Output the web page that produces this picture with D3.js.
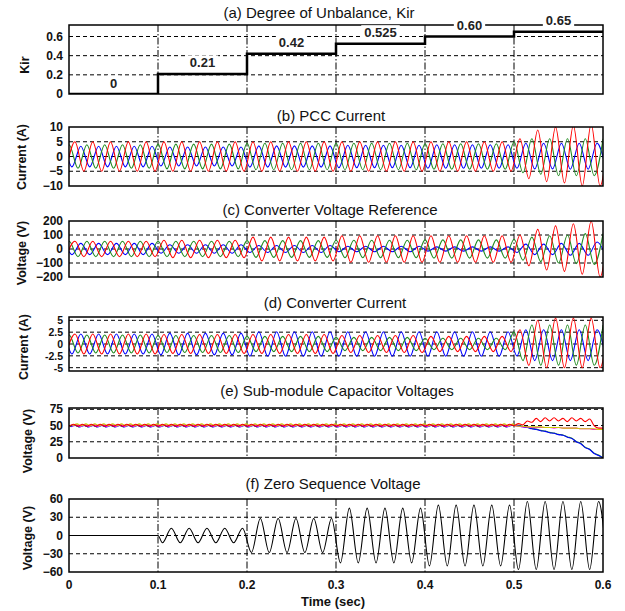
<!DOCTYPE html>
<html>
<head>
<meta charset="utf-8">
<script src="https://cdn.jsdelivr.net/npm/d3@7"></script>
<style>
body { margin: 0; background: #fff; }
text { font-family: "Liberation Sans", Arial, sans-serif; }
.tick { font-size: 12px; font-weight: bold; fill: #111; }
.tick-d { font-size: 10.5px; }
.title { font-size: 15px; fill: #111; }
.ylab { font-size: 12.5px; font-weight: bold; fill: #111; }
.steplab { font-size: 13px; font-weight: bold; fill: #222; }
.frame { fill: none; stroke: #000; stroke-width: 1.5; }
.hgrid { stroke: #000; stroke-width: 1; stroke-dasharray: 4,3; }
.vgrid { stroke: #000; stroke-width: 1; stroke-dasharray: 7,2,1.5,2; }
.wave { fill: none; stroke-width: 1.1; }
</style>
</head>
<body>
<svg id="chart" width="625" height="611"></svg>
<script>
/* Unbalance test: six stacked time plots */

// (a) degree of unbalance steps
const kirStart = [0, 0.1, 0.2, 0.3, 0.4, 0.5];
const kirValue = [0, 0.21, 0.42, 0.525, 0.60, 0.65];
const kirLabel = ["0", "0.21", "0.42", "0.525", "0.60", "0.65"];

// 50 Hz three phase signals: time of first trough for each phase
const phaseStart = [-0.0033, -0.0099, -0.0167];   // red, green, blue

// amplitude of each 0.1 s segment up to 0.5 s, then each half-cycle peak after 0.5 s
// (b) PCC current (A)
const pccRedAmp   = [5, 5, 5, 5, 5];
const pccGreenAmp = [4, 4.2, 4.5, 4.5, 4.3];
const pccBlueAmp  = [3.5, 3.2, 3.6, 3.8, 4];
const pccRedPeaks   = [6, 7.5, 9, 8.5, 10, 9, 10.5, 10, 11, 10, 10];
const pccGreenPeaks = [5, 5.5, 6, 6, 6, 6.5, 6, 6.5, 6, 6.5, 6];
const pccBluePeaks  = [4, 4.5, 4.2, 4.5, 4.2, 4.5, 4.3, 4.5, 4.3, 4.5, 4.3];

// (c) converter voltage reference (V)
const refRedAmp   = [55, 62, 85, 95, 95];
const refGreenAmp = [55, 55, 60, 62, 65];
const refBlueAmp  = [40, 30, 25, 20, 15];
const refRedPeaks   = [100, 120, 140, 150, 165, 160, 180, 180, 200, 200, 210];
const refGreenPeaks = [70, 80, 85, 90, 95, 100, 100, 105, 110, 110, 110];
const refBluePeaks  = [25, 35, 40, 35, 40, 40, 45, 40, 45, 50, 50];

// (d) converter current (A)
const convRedAmp   = [2.1, 2, 2, 1.8, 1.6];
const convGreenAmp = [1.9, 1.8, 1.6, 1.4, 1.2];
const convBlueAmp  = [2.1, 2.3, 2.6, 2.6, 2.6];
const convRedPeaks   = [3, 4.5, 5, 5, 5.5, 5, 5.5, 5, 5.5, 5, 5];
const convGreenPeaks = [2.5, 3.5, 4, 4.5, 4, 4.5, 4, 4.5, 4, 4.5, 4];
const convBluePeaks  = [2.5, 3, 3.5, 3, 3.5, 3, 3.5, 3, 3.5, 3, 3];

// (e) sub-module capacitor voltages: ripple before 0.5 s, samples after
const capNames  = ["green", "blue", "magenta", "yellow", "red"];
const capLevel  = [49.5, 49, 50, 51, 50.5];
const capRipple = [1.5, 1, 1.5, 1.5, 1.5];
const capPhase  = [0.001, 0.002, 0.003, 0.004, 0];
const capTimes  = [0.5, 0.505, 0.51, 0.515, 0.52, 0.525, 0.53, 0.535, 0.54, 0.545, 0.55,
                   0.555, 0.56, 0.565, 0.57, 0.575, 0.58, 0.585, 0.59, 0.595, 0.6];
const capGreenAfter   = [50, 50.5, 48.5, 47.5, 45.5, 44.5, 42.5, 41.5, 39.5, 38.5, 36.5,
                         35.5, 32.5, 30.5, 25.5, 22.5, 16.5, 13.5, 7.5, 4.5, 0];
const capBlueAfter    = [50, 49.5, 48, 47, 45, 44, 42, 41, 39, 38, 36,
                         35, 32, 30, 25, 22, 16, 13, 7, 4, 0];
const capMagentaAfter = [50, 49, 48, 48, 47, 47, 47, 47, 47, 46, 47,
                         46, 46, 46, 46, 45, 45, 45, 44, 44, 44];
const capYellowAfter  = [50, 49, 49, 48, 48, 48, 48, 47, 47, 47, 47,
                         46, 46, 46, 46, 45, 45, 45, 45, 44, 44];
const capRedAfter     = [50, 53, 51, 57, 55, 61, 56, 62, 57, 62, 57,
                         61, 56, 62, 57, 61, 56, 60, 50, 46, 46];

// (f) zero sequence voltage amplitude per 0.1 s segment (V)
const zeroAmp = [0, 12, 28, 45, 50, 56];

// axis ticks
const timeTicks = [0, 0.1, 0.2, 0.3, 0.4, 0.5, 0.6];

const colors = {red: "#ff0000", green: "#1f8a1f", blue: "#0000ff", magenta: "#ff00ff", yellow: "#cccc00"};

const svg = d3.select("#chart");
const x = d3.scaleLinear().domain([0, 0.6]).range([69, 603]);

const panels = [
  {id: "a", top: 25,  bottom: 94,  domain: [0, 0.72],   ticks: [0, 0.2, 0.4, 0.6], fmt: d => d === 0 ? "0" : d3.format(".1f")(d),
   grid: [0.2, 0.4, 0.6], ylabel: "Kir", lx: 25, ly: 65,
   title: "(a)  Degree of Unbalance, Kir", tx: 319, ty: 18},
  {id: "b", top: 127, bottom: 186, domain: [-10, 10],   ticks: [-10, -5, 0, 5, 10], fmt: d3.format("d"),
   grid: [-5, 0, 5], ylabel: "Current (A)", lx: 22, ly: 157,
   title: "(b) PCC Current", tx: 331, ty: 121},
  {id: "c", top: 221, bottom: 277, domain: [-200, 200], ticks: [-200, -100, 0, 100, 200], fmt: d3.format("d"),
   grid: [-100, 0, 100], ylabel: "Voltage (V)", lx: 22, ly: 253,
   title: "(c)  Converter Voltage Reference", tx: 330, ty: 215},
  {id: "d", top: 317, bottom: 371, domain: [-5.7, 5.7], ticks: [-5, -2.5, 0, 2.5, 5], fmt: d => String(d),
   grid: [-5, -2.5, 0, 2.5, 5], ylabel: "Current (A)", lx: 24, ly: 347,
   title: "(d)  Converter Current", tx: 335, ty: 308},
  {id: "e", top: 408, bottom: 458, domain: [0, 77],     ticks: [0, 25, 50, 75], fmt: d3.format("d"),
   grid: [25, 50, 75], ylabel: "Voltage (V)", lx: 28, ly: 441,
   title: "(e)  Sub-module Capacitor Voltages", tx: 337, ty: 396},
  {id: "f", top: 499, bottom: 572, domain: [-60, 60],   ticks: [-60, -30, 0, 30, 60], fmt: d3.format("d"),
   grid: [-30, 0, 30], ylabel: "Voltage (V)", lx: 28, ly: 538,
   title: "(f) Zero Sequence Voltage", tx: 333, ty: 489}
];

// alternating troughs and peaks every half cycle, segment amplitude before 0.5 s
function extrema(t0, segAmp, lastPeaks) {
  const pts = [];
  let j = 0;
  for (let k = 0, t = t0; t <= 0.61; k++, t = t0 + k * 0.01) {
    const sign = k % 2 ? 1 : -1;
    let a;
    if (t >= 0.5 && lastPeaks) a = lastPeaks[Math.min(j++, lastPeaks.length - 1)];
    else a = segAmp[Math.min(segAmp.length - 1, Math.max(0, Math.floor(t / 0.1 + 1e-9)))];
    pts.push([t, sign * a]);
  }
  return pts;
}

function ripple(i, after) {
  const pts = [];
  for (let k = 0, t = capPhase[i]; t < 0.5; k++, t = capPhase[i] + k * 0.005)
    pts.push([t, capLevel[i] + (k % 2 ? capRipple[i] : -capRipple[i])]);
  capTimes.forEach((t, n) => pts.push([t, after[n]]));
  return pts;
}

const g = {};
const yScale = {};

panels.forEach(p => {
  const y = d3.scaleLinear().domain(p.domain).range([p.bottom, p.top]);
  yScale[p.id] = y;
  const pg = svg.append("g").attr("class", "panel-" + p.id);
  g[p.id] = pg;

  pg.append("defs").append("clipPath").attr("id", "clip-" + p.id)
    .append("rect").attr("x", x(0)).attr("y", p.top)
    .attr("width", x(0.6) - x(0)).attr("height", p.bottom - p.top);

  pg.selectAll("line.hgrid").data(p.grid).enter()
    .append("line").attr("class", "hgrid")
    .attr("x1", x(0)).attr("x2", x(0.6))
    .attr("y1", d => y(d)).attr("y2", d => y(d));

  pg.selectAll("line.vgrid").data(timeTicks.slice(1, -1)).enter()
    .append("line").attr("class", "vgrid")
    .attr("x1", d => x(d)).attr("x2", d => x(d))
    .attr("y1", p.top).attr("y2", p.bottom);

  pg.selectAll("text.tick").data(p.ticks).enter()
    .append("text").attr("class", "tick" + (p.id === "d" ? " tick-d" : ""))
    .attr("x", 63).attr("y", d => y(d))
    .attr("text-anchor", "end").attr("dominant-baseline", "central")
    .text(p.fmt);

  pg.append("text").attr("class", "ylab")
    .attr("transform", `translate(${p.lx},${p.ly}) rotate(-90)`)
    .attr("text-anchor", "middle").attr("dominant-baseline", "central")
    .text(p.ylabel);

  pg.append("text").attr("class", "title")
    .attr("x", p.tx).attr("y", p.ty).attr("text-anchor", "middle")
    .text(p.title);

  p.data = pg.append("g").attr("clip-path", `url(#clip-${p.id})`);
});

const wave = id => d3.line()
  .x(d => x(d[0])).y(d => yScale[id](d[1]))
  .curve(d3.curveMonotoneX);

function drawPhases(id, sets) {
  const p = panels.find(q => q.id === id);
  p.data.selectAll("path.wave").data(sets).enter()
    .append("path").attr("class", "wave")
    .attr("stroke", d => colors[d.color])
    .attr("d", d => wave(id)(d.pts));
}

// (a) step line
const pa = panels[0];
const stepPts = kirStart.map((t, i) => [t, kirValue[i]]).concat([[0.6, kirValue[kirValue.length - 1]]]);
pa.data.append("path")
  .attr("fill", "none").attr("stroke", "#000").attr("stroke-width", 2.5)
  .attr("d", d3.line().x(d => x(d[0])).y(d => yScale.a(d[1])).curve(d3.curveStepAfter)(stepPts));

// (b) (c) (d) three phase waveforms, drawn blue, green, red
drawPhases("b", [
  {color: "blue",  pts: extrema(phaseStart[2], pccBlueAmp, pccBluePeaks)},
  {color: "green", pts: extrema(phaseStart[1], pccGreenAmp, pccGreenPeaks)},
  {color: "red",   pts: extrema(phaseStart[0], pccRedAmp, pccRedPeaks)}
]);
drawPhases("c", [
  {color: "blue",  pts: extrema(phaseStart[2], refBlueAmp, refBluePeaks)},
  {color: "green", pts: extrema(phaseStart[1], refGreenAmp, refGreenPeaks)},
  {color: "red",   pts: extrema(phaseStart[0], refRedAmp, refRedPeaks)}
]);
drawPhases("d", [
  {color: "blue",  pts: extrema(phaseStart[2], convBlueAmp, convBluePeaks)},
  {color: "green", pts: extrema(phaseStart[1], convGreenAmp, convGreenPeaks)},
  {color: "red",   pts: extrema(phaseStart[0], convRedAmp, convRedPeaks)}
]);

// (e) capacitor voltages
const capAfter = [capGreenAfter, capBlueAfter, capMagentaAfter, capYellowAfter, capRedAfter];
drawPhases("e", capNames.map((c, i) => ({color: c, pts: ripple(i, capAfter[i])})));
panels[4].data.selectAll("path.wave").attr("stroke-width", 1.4);

// (f) zero sequence voltage
const zeroPts = [[0, 0], [0.1, 0]].concat(extrema(0.105, zeroAmp, null));
panels[5].data.append("path").attr("class", "wave")
  .attr("stroke", "#000").attr("stroke-width", 1.2)
  .attr("d", wave("f")(zeroPts));

// frames on top
panels.forEach(p => {
  g[p.id].append("rect").attr("class", "frame")
    .attr("x", x(0)).attr("y", p.top)
    .attr("width", x(0.6) - x(0)).attr("height", p.bottom - p.top);
});

// (a) step value labels with white backing
const labG = g.a.append("g");
kirLabel.forEach((lab, i) => {
  const cx = x(kirStart[i] + 0.05);
  const cy = yScale.a(kirValue[i]) - 11;
  const t = labG.append("text").attr("class", "steplab")
    .attr("x", cx).attr("y", cy)
    .attr("text-anchor", "middle").attr("dominant-baseline", "central")
    .text(lab);
  const bb = t.node().getBBox();
  labG.insert("rect", "text:last-child")
    .attr("x", bb.x - 3).attr("y", bb.y)
    .attr("width", bb.width + 6).attr("height", bb.height)
    .attr("fill", "#fff");
});

// time axis under (f)
svg.selectAll("text.xtick").data(timeTicks).enter()
  .append("text").attr("class", "tick xtick")
  .attr("x", d => x(d)).attr("y", 589)
  .attr("text-anchor", "middle")
  .text(d => d === 0 ? "0" : d3.format(".1f")(d));

svg.append("text").attr("class", "ylab")
  .attr("x", 333).attr("y", 606).attr("text-anchor", "middle")
  .style("font-size", "13px")
  .text("Time (sec)");
</script>
</body>
</html>
